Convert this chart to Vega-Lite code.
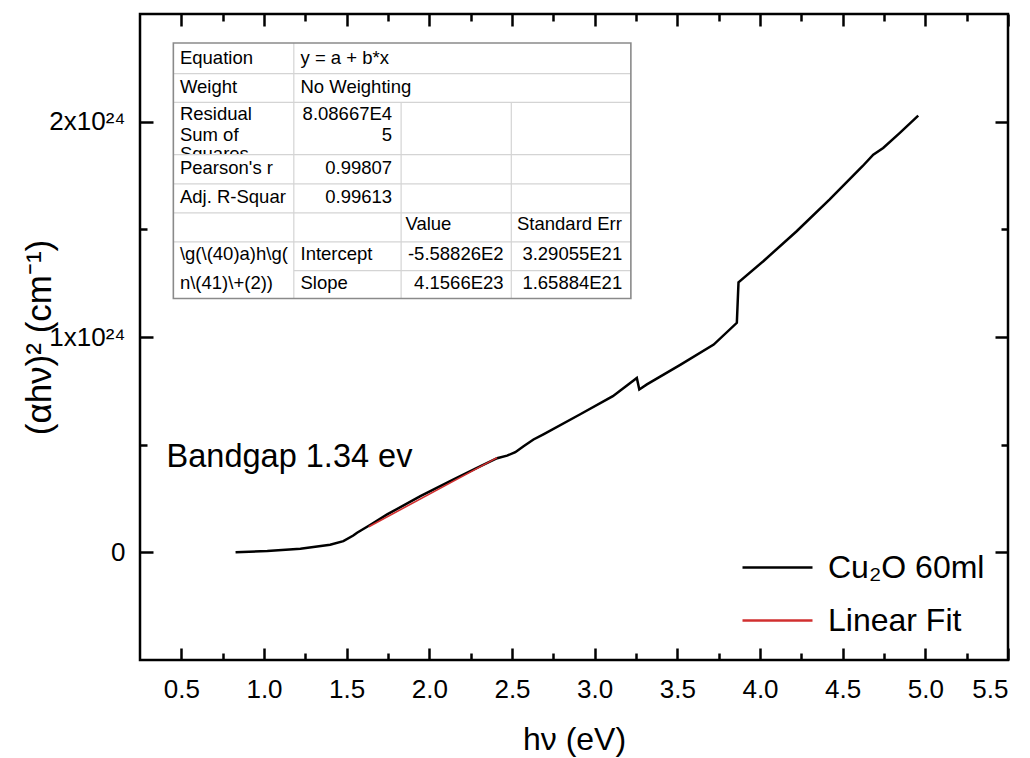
{
  "$schema": "https://vega.github.io/schema/vega-lite/v6.json",
  "width": 868,
  "height": 646,
  "autosize": {"type": "none"},
  "padding": {"left": 140, "top": 14, "right": 22, "bottom": 98},
  "background": "white",
  "config": {
    "view": {"stroke": "black", "strokeWidth": 2.5},
    "font": "Liberation Sans",
    "axis": {"domain": false, "grid": false, "tickColor": "black", "tickWidth": 2.5, "labelColor": "black", "titleColor": "black", "labelFont": "Liberation Sans", "titleFont": "Liberation Sans", "labelFontSize": 26, "titleFontSize": 32, "titleFontWeight": "normal"}
  },
  "datasets": {
    "curve": [
      {"x": 0.828, "y": 0.0, "series": "Cu₂O 60ml"},
      {"x": 1.02, "y": 0.006e24, "series": "Cu₂O 60ml"},
      {"x": 1.22, "y": 0.017e24, "series": "Cu₂O 60ml"},
      {"x": 1.40, "y": 0.035e24, "series": "Cu₂O 60ml"},
      {"x": 1.48, "y": 0.052e24, "series": "Cu₂O 60ml"},
      {"x": 1.54, "y": 0.078e24, "series": "Cu₂O 60ml"},
      {"x": 1.563, "y": 0.091e24, "series": "Cu₂O 60ml"},
      {"x": 1.644, "y": 0.128e24, "series": "Cu₂O 60ml"},
      {"x": 1.745, "y": 0.176e24, "series": "Cu₂O 60ml"},
      {"x": 1.946, "y": 0.261e24, "series": "Cu₂O 60ml"},
      {"x": 2.147, "y": 0.339e24, "series": "Cu₂O 60ml"},
      {"x": 2.31, "y": 0.400e24, "series": "Cu₂O 60ml"},
      {"x": 2.41, "y": 0.437e24, "series": "Cu₂O 60ml"},
      {"x": 2.47, "y": 0.449e24, "series": "Cu₂O 60ml"},
      {"x": 2.52, "y": 0.465e24, "series": "Cu₂O 60ml"},
      {"x": 2.57, "y": 0.493e24, "series": "Cu₂O 60ml"},
      {"x": 2.63, "y": 0.524e24, "series": "Cu₂O 60ml"},
      {"x": 2.69, "y": 0.548e24, "series": "Cu₂O 60ml"},
      {"x": 2.91, "y": 0.640e24, "series": "Cu₂O 60ml"},
      {"x": 3.11, "y": 0.725e24, "series": "Cu₂O 60ml"},
      {"x": 3.255, "y": 0.810e24, "series": "Cu₂O 60ml"},
      {"x": 3.27, "y": 0.756e24, "series": "Cu₂O 60ml"},
      {"x": 3.316, "y": 0.780e24, "series": "Cu₂O 60ml"},
      {"x": 3.52, "y": 0.872e24, "series": "Cu₂O 60ml"},
      {"x": 3.72, "y": 0.965e24, "series": "Cu₂O 60ml"},
      {"x": 3.86, "y": 1.066e24, "series": "Cu₂O 60ml"},
      {"x": 3.87, "y": 1.254e24, "series": "Cu₂O 60ml"},
      {"x": 4.02, "y": 1.352e24, "series": "Cu₂O 60ml"},
      {"x": 4.22, "y": 1.490e24, "series": "Cu₂O 60ml"},
      {"x": 4.42, "y": 1.638e24, "series": "Cu₂O 60ml"},
      {"x": 4.62, "y": 1.793e24, "series": "Cu₂O 60ml"},
      {"x": 4.685, "y": 1.847e24, "series": "Cu₂O 60ml"},
      {"x": 4.745, "y": 1.878e24, "series": "Cu₂O 60ml"},
      {"x": 4.846, "y": 1.948e24, "series": "Cu₂O 60ml"},
      {"x": 4.957, "y": 2.028e24, "series": "Cu₂O 60ml"}
    ],
    "fit": [
      {"x": 1.634, "y": 0.119e24, "series": "Linear Fit"},
      {"x": 2.41, "y": 0.440e24, "series": "Linear Fit"}
    ],
    "tableLeft": [
      {"x": 0.4916, "y": 2.2956e24, "t": "Equation"},
      {"x": 0.4916, "y": 2.1610e24, "t": "Weight"},
      {"x": 0.4916, "y": 2.0357e24, "t": "Residual"},
      {"x": 0.4916, "y": 1.9397e24, "t": "Sum of"},
      {"x": 0.4916, "y": 1.7851e24, "t": "Pearson's r"},
      {"x": 0.4916, "y": 1.6506e24, "t": "Adj. R-Squar"},
      {"x": 0.4916, "y": 1.3875e24, "t": "\\g(\\(40)a)h\\g("},
      {"x": 0.4916, "y": 1.2515e24, "t": "n\\(41)\\+(2))"},
      {"x": 1.2208, "y": 2.2956e24, "t": "y = a + b*x"},
      {"x": 1.2208, "y": 2.1610e24, "t": "No Weighting"},
      {"x": 1.2208, "y": 1.3875e24, "t": "Intercept"},
      {"x": 1.2208, "y": 1.2515e24, "t": "Slope"},
      {"x": 1.8553, "y": 1.5267e24, "t": "Value"},
      {"x": 2.5302, "y": 1.5267e24, "t": "Standard Err"}
    ],
    "tableRight": [
      {"x": 1.7749, "y": 2.0357e24, "t": "8.08667E4"},
      {"x": 1.7749, "y": 1.9397e24, "t": "5"},
      {"x": 1.7749, "y": 1.7851e24, "t": "0.99807"},
      {"x": 1.7749, "y": 1.6506e24, "t": "0.99613"},
      {"x": 2.4493, "y": 1.3875e24, "t": "-5.58826E2"},
      {"x": 2.4493, "y": 1.2515e24, "t": "4.1566E23"},
      {"x": 3.1665, "y": 1.3875e24, "t": "3.29055E21"},
      {"x": 3.1665, "y": 1.2515e24, "t": "1.65884E21"}
    ],
    "clipped": [
      {"x": 0.4916, "y": 1.8480e24, "t": "Squares"}
    ],
    "cover": [
      {"x": 0.4560, "x2": 1.1780, "y": 1.7109e24, "y2": 1.8469e24}
    ],
    "lines": [
      {"x": 0.4517, "x2": 3.2190, "y": 2.2227e24, "y2": 2.2227e24},
      {"x": 0.4517, "x2": 3.2190, "y": 2.0896e24, "y2": 2.0896e24},
      {"x": 0.4517, "x2": 3.2190, "y": 1.8469e24, "y2": 1.8469e24},
      {"x": 0.4517, "x2": 3.2190, "y": 1.7109e24, "y2": 1.7109e24},
      {"x": 0.4517, "x2": 3.2190, "y": 1.5763e24, "y2": 1.5763e24},
      {"x": 0.4517, "x2": 3.2190, "y": 1.4418e24, "y2": 1.4418e24},
      {"x": 1.1804, "x2": 3.2190, "y": 1.3086e24, "y2": 1.3086e24},
      {"x": 1.1804, "x2": 1.1804, "y": 1.1787e24, "y2": 2.3652e24},
      {"x": 1.8293, "x2": 1.8293, "y": 1.1787e24, "y2": 2.0896e24},
      {"x": 2.4958, "x2": 2.4958, "y": 1.1787e24, "y2": 2.0896e24}
    ],
    "frame": [
      {"x": 0.4517, "x2": 3.2190, "y": 1.1787e24, "y2": 2.3652e24}
    ],
    "note": [
      {"x": 0.411, "y": 0.441e24, "t": "Bandgap 1.34 ev"}
    ]
  },
  "layer": [
    {
      "data": {"name": "clipped"},
      "mark": {"type": "text", "align": "left", "baseline": "middle", "fontSize": 18.5, "font": "Liberation Sans", "color": "black"},
      "encoding": {
        "x": {"field": "x", "type": "quantitative", "scale": {"domain": [0.25, 5.5], "nice": false, "zero": false}, "axis": null},
        "y": {"field": "y", "type": "quantitative", "scale": {"domain": [-5e23, 2.5e24], "nice": false, "zero": false}, "axis": null},
        "text": {"field": "t"}
      }
    },
    {
      "data": {"name": "cover"},
      "mark": {"type": "rect", "color": "white"},
      "encoding": {
        "x": {"field": "x", "type": "quantitative", "scale": {"domain": [0.25, 5.5], "nice": false, "zero": false}, "axis": null},
        "x2": {"field": "x2"},
        "y": {"field": "y", "type": "quantitative", "scale": {"domain": [-5e23, 2.5e24], "nice": false, "zero": false}, "axis": null},
        "y2": {"field": "y2"}
      }
    },
    {
      "data": {"name": "tableLeft"},
      "mark": {"type": "text", "align": "left", "baseline": "middle", "fontSize": 18.5, "font": "Liberation Sans", "color": "black"},
      "encoding": {
        "x": {"field": "x", "type": "quantitative", "scale": {"domain": [0.25, 5.5], "nice": false, "zero": false}, "axis": null},
        "y": {"field": "y", "type": "quantitative", "scale": {"domain": [-5e23, 2.5e24], "nice": false, "zero": false}, "axis": null},
        "text": {"field": "t"}
      }
    },
    {
      "data": {"name": "tableRight"},
      "mark": {"type": "text", "align": "right", "baseline": "middle", "fontSize": 18.5, "font": "Liberation Sans", "color": "black"},
      "encoding": {
        "x": {"field": "x", "type": "quantitative", "scale": {"domain": [0.25, 5.5], "nice": false, "zero": false}, "axis": null},
        "y": {"field": "y", "type": "quantitative", "scale": {"domain": [-5e23, 2.5e24], "nice": false, "zero": false}, "axis": null},
        "text": {"field": "t"}
      }
    },
    {
      "data": {"name": "lines"},
      "mark": {"type": "rule", "color": "#d4d4d4", "strokeWidth": 1.2},
      "encoding": {
        "x": {"field": "x", "type": "quantitative", "scale": {"domain": [0.25, 5.5], "nice": false, "zero": false},
              "axis": {"orient": "top", "values": [0.5, 1, 1.5, 2, 2.5, 3, 3.5, 4, 4.5, 5, 5.5], "labels": false, "tickSize": -12, "title": null}},
        "x2": {"field": "x2"},
        "y": {"field": "y", "type": "quantitative", "scale": {"domain": [-5e23, 2.5e24], "nice": false, "zero": false},
              "axis": {"orient": "right", "values": [0, 1e24, 2e24], "labels": false, "tickSize": -13, "title": null}},
        "y2": {"field": "y2"}
      }
    },
    {
      "data": {"name": "frame"},
      "mark": {"type": "rect", "fillOpacity": 0, "stroke": "#8a8a8a", "strokeWidth": 1.6},
      "encoding": {
        "x": {"field": "x", "type": "quantitative", "scale": {"domain": [0.25, 5.5], "nice": false, "zero": false},
              "axis": {"orient": "top", "values": [0.75, 1.25, 1.75, 2.25, 2.75, 3.25, 3.75, 4.25, 4.75, 5.25], "labels": false, "tickSize": -7, "title": null}},
        "x2": {"field": "x2"},
        "y": {"field": "y", "type": "quantitative", "scale": {"domain": [-5e23, 2.5e24], "nice": false, "zero": false},
              "axis": {"orient": "right", "values": [5e23, 1.5e24], "labels": false, "tickSize": -7, "title": null}},
        "y2": {"field": "y2"}
      }
    },
    {
      "data": {"name": "note"},
      "mark": {"type": "text", "align": "left", "baseline": "middle", "fontSize": 32.5, "font": "Liberation Sans", "color": "black"},
      "encoding": {
        "x": {"field": "x", "type": "quantitative", "scale": {"domain": [0.25, 5.5], "nice": false, "zero": false}, "axis": null},
        "y": {"field": "y", "type": "quantitative", "scale": {"domain": [-5e23, 2.5e24], "nice": false, "zero": false}, "axis": null},
        "text": {"field": "t"}
      }
    },
    {
      "data": {"name": "curve"},
      "mark": {"type": "line", "strokeWidth": 2.5},
      "encoding": {
        "x": {"field": "x", "type": "quantitative", "scale": {"domain": [0.25, 5.5], "nice": false, "zero": false},
              "axis": {"orient": "bottom", "values": [0.5, 1, 1.5, 2, 2.5, 3, 3.5, 4, 4.5, 5, 5.5], "format": ".1f", "tickSize": -12, "labelPadding": 28,
                       "title": "hν (eV)", "titleFontSize": 32, "titleX": 434, "titleY": 79, "titleAlign": "center", "titleBaseline": "middle"}},
        "y": {"field": "y", "type": "quantitative", "scale": {"domain": [-5e23, 2.5e24], "nice": false, "zero": false},
              "axis": {"orient": "left", "values": [0, 1e24, 2e24], "labelExpr": "datum.value == 0 ? '0' : format(datum.value / 1e24, 'd') + 'x10²⁴'",
                       "tickSize": -13, "labelPadding": 28, "title": "(αhν)² (cm⁻¹)", "titleFontSize": 35, "titleX": -101, "titleY": 323,
                       "titleAngle": -90, "titleAlign": "center", "titleBaseline": "middle"}},
        "color": {"field": "series", "type": "nominal",
                  "scale": {"domain": ["Cu₂O 60ml", "Linear Fit"], "range": ["#000000", "#d12f2f"]},
                  "legend": {"title": null, "orient": "none", "legendX": 601, "legendY": 517, "symbolType": "stroke", "symbolSize": 4900,
                             "symbolStrokeWidth": 2.3, "labelFontSize": 32, "labelFont": "Liberation Sans", "labelColor": "black",
                             "labelOffset": 14, "rowPadding": -27, "padding": 0, "labelLimit": 400}}
      }
    },
    {
      "data": {"name": "fit"},
      "mark": {"type": "line", "strokeWidth": 1.6},
      "encoding": {
        "x": {"field": "x", "type": "quantitative", "scale": {"domain": [0.25, 5.5], "nice": false, "zero": false},
              "axis": {"orient": "bottom", "values": [0.75, 1.25, 1.75, 2.25, 2.75, 3.25, 3.75, 4.25, 4.75, 5.25], "labels": false, "tickSize": -7, "title": null}},
        "y": {"field": "y", "type": "quantitative", "scale": {"domain": [-5e23, 2.5e24], "nice": false, "zero": false},
              "axis": {"orient": "left", "values": [5e23, 1.5e24], "labels": false, "tickSize": -7, "title": null}},
        "color": {"field": "series", "type": "nominal"}
      }
    }
  ],
  "resolve": {"axis": {"x": "independent", "y": "independent"}}
}
